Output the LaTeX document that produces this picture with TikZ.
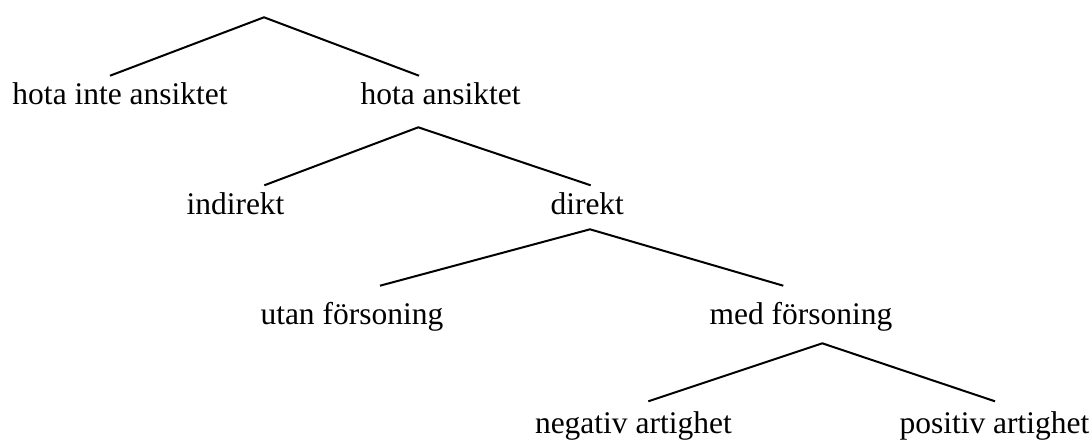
\documentclass[tikz,border=0pt]{standalone}
\usepackage{fontspec}
\setmainfont{Liberation Serif}
\begin{document}
\begin{tikzpicture}[x=1pt,y=-1pt,
  label/.style={anchor=base west,inner sep=0pt,outer sep=0pt,font=\fontsize{31.5}{38}\selectfont},
  branch/.style={line width=2pt,line join=miter}]
\useasboundingbox (0,0) rectangle (1092,440);

% category labels
\node[label] (hia) at (12.5,104) {hota inte ansiktet};
\node[label] (ha)  at (360.5,104) {hota ansiktet};
\node[label] (ind) at (186.5,214) {indirekt};
\node[label] (dir) at (550.5,214) {direkt};
\node[label] (utf) at (260.5,324.5) {utan försoning};
\node[label] (mef) at (709.5,324.5) {med försoning};
\node[label] (neg) at (535,433.5) {negativ artighet};
\node[label] (pos) at (899.5,433.5) {positiv artighet};

% branching points and branch ends
\coordinate (root) at (264,17.3);
\coordinate (hiaTop) at (110,75.7);
\coordinate (haTop) at (419,75.7);
\coordinate (haFork) at (418.3,127.3);
\coordinate (indTop) at (264.3,185.3);
\coordinate (dirTop) at (590.7,185.3);
\coordinate (dirFork) at (590,229.3);
\coordinate (utfTop) at (380,285.7);
\coordinate (mefTop) at (783.3,285.7);
\coordinate (mefFork) at (822.3,343.3);
\coordinate (negTop) at (648.3,401.3);
\coordinate (posTop) at (995,401.3);

% tree branches
\draw[branch] (hiaTop) -- (root) -- (haTop);
\draw[branch] (indTop) -- (haFork) -- (dirTop);
\draw[branch] (utfTop) -- (dirFork) -- (mefTop);
\draw[branch] (negTop) -- (mefFork) -- (posTop);
\end{tikzpicture}
\end{document}
